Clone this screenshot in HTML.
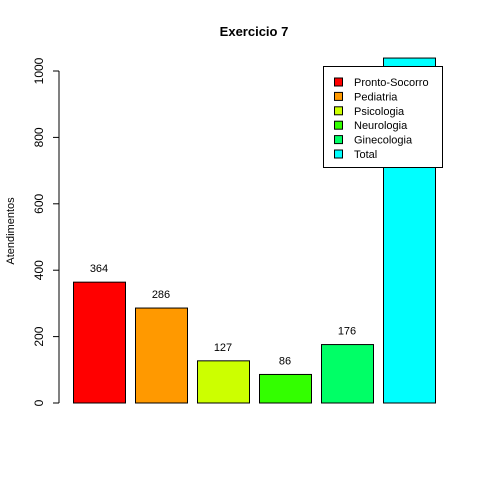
<!DOCTYPE html>
<html><head><meta charset="utf-8"><style>body{margin:0;background:#fff}svg{display:block;font-family:"Liberation Sans",Arial,sans-serif}</style></head>
<body>
<svg id="chart" width="480" height="480">
<text x="254" y="36" text-anchor="middle" font-size="13" font-weight="bold">Exercicio 7</text>
<text transform="translate(14,231) rotate(-90)" text-anchor="middle" font-size="11">Atendimentos</text>
<g id="axis"></g><g id="bars"></g>
<g id="legend"></g>
</svg>
<script>
const categories=["Pronto-Socorro","Pediatria","Psicologia","Neurologia","Ginecologia","Total"];
const values=[364,286,127,86,176,1039];
const labelValues=[364,286,127,86,176];
const colors=["#FF0000","#FF9900","#CCFF00","#33FF00","#00FF66","#00FFFF"];
const yTicks=[0,200,400,600,800,1000];
const NS="http://www.w3.org/2000/svg";
const y=v=>403-v*0.332;
const x=i=>73+i*62;
function mk(tag,attrs,parent){const e=document.createElementNS(NS,tag);for(const k in attrs)e.setAttribute(k,attrs[k]);parent.appendChild(e);return e;}
const ax=document.getElementById('axis'),bg=document.getElementById('bars'),lg=document.getElementById('legend');
const al=mk('line',{x1:59,x2:59,y1:y(0),y2:y(1000),stroke:'#000'},ax);


yTicks.forEach(t=>{
 const l=mk('line',{x1:53,x2:59,y1:y(t),y2:y(t),stroke:'#000'},ax);
 
 
 const tx=mk('text',{transform:`translate(43,${y(t)}) rotate(-90)`,'text-anchor':'middle','font-size':'12'},ax);
 tx.textContent=t;
 
 
});
values.forEach((v,i)=>{
 const r=mk('rect',{x:x(i)+0.5,y:y(v),width:52,height:y(0)-y(v),fill:colors[i],stroke:'#000'},bg);
 
 
});
labelValues.forEach((v,i)=>{
 const t=mk('text',{x:x(i)+26,y:y(v)-10,'text-anchor':'middle','font-size':'11'},bg);
 t.textContent=v;
 
 
});
const box=mk('rect',{x:323.5,y:66.5,width:119,height:101,fill:'#fff',stroke:'#000'},lg);


categories.forEach((c,i)=>{
 const yy=82+i*14.4;
 const s=mk('rect',{x:334.5,y:yy-4,width:8,height:8,fill:colors[i],stroke:'#000'},lg);
 
 
 const t=mk('text',{x:354,y:yy+4,'font-size':'11'},lg);
 t.textContent=c;
 
 
});
</script>
</body></html>
